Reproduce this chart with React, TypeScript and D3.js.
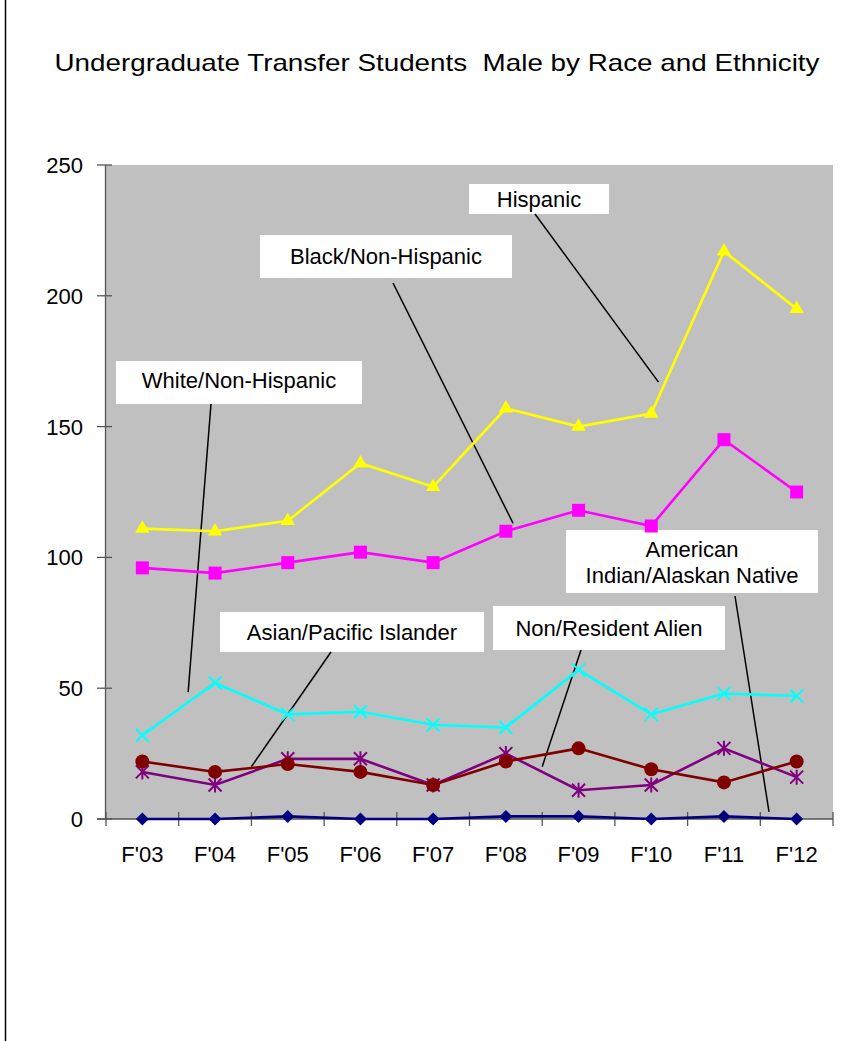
import * as d3 from 'd3';
import React from 'react';

const years = ["F'03", "F'04", "F'05", "F'06", "F'07", "F'08", "F'09", "F'10", "F'11", "F'12"];

const hispanic = [111, 110, 114, 136, 127, 157, 150, 155, 217, 195];
const black = [96, 94, 98, 102, 98, 110, 118, 112, 145, 125];
const white = [32, 52, 40, 41, 36, 35, 57, 40, 48, 47];
const asian = [22, 18, 21, 18, 13, 22, 27, 19, 14, 22];
const nonResident = [18, 13, 23, 23, 13, 25, 11, 13, 27, 16];
const amIndian = [0, 0, 1, 0, 0, 1, 1, 0, 1, 0];

const yTicks = [0, 50, 100, 150, 200, 250];

const width = 856;
const height = 1041;
const plot = { left: 106, right: 833, top: 165, bottom: 819 };

const series = [
  { name: 'Hispanic', values: hispanic, color: '#FFFF00', marker: 'triangle' },
  { name: 'Black/Non-Hispanic', values: black, color: '#FF00FF', marker: 'square' },
  { name: 'White/Non-Hispanic', values: white, color: '#00FFFF', marker: 'x' },
  { name: 'Asian/Pacific Islander', values: asian, color: '#800000', marker: 'circle' },
  { name: 'Non/Resident Alien', values: nonResident, color: '#800080', marker: 'star' },
  { name: 'American Indian/Alaskan Native', values: amIndian, color: '#000080', marker: 'diamond' },
];

// callout boxes: box in pixels, leader tip in data units (category index, value)
const callouts = [
  { lines: ['Hispanic'], box: [469, 184, 140, 30], base: [207], from: [535, 214], tip: [7.1, 167] },
  { lines: ['Black/Non-Hispanic'], box: [260, 235, 252, 43], base: [264], from: [393, 283], tip: [5.1, 113] },
  { lines: ['White/Non-Hispanic'], box: [116, 361, 246, 43], base: [388], from: [211, 404], tip: [0.63, 48.5] },
  { lines: ['Asian/Pacific Islander'], box: [220, 612, 264, 40], base: [640], from: [331, 652], tip: [1.5, 20] },
  { lines: ['Non/Resident Alien'], box: [493, 606, 232, 44], base: [636], from: [581, 650], tip: [5.5, 20] },
  { lines: ['American', 'Indian/Alaskan Native'], box: [566, 530, 252, 63], base: [557, 583], from: [735, 596], tip: [8.62, 2.7] },
];

const font = 'Arial, "Liberation Sans", Helvetica, sans-serif';

const Marker = ({ type, x, y, color }: { type: string; x: number; y: number; color: string }) => {
  const s = 6.5;
  if (type === 'triangle') {
    return <path d={d3.symbol(d3.symbolTriangle, 90)()!} transform={`translate(${x},${y})`} fill={color} />;
  }
  if (type === 'square') {
    return <rect x={x - s} y={y - s} width={2 * s} height={2 * s} fill={color} />;
  }
  if (type === 'circle') {
    return <circle cx={x} cy={y} r={7} fill={color} />;
  }
  if (type === 'diamond') {
    return <path d={`M${x},${y - s}L${x + s},${y}L${x},${y + s}L${x - s},${y}Z`} fill={color} />;
  }
  const cross = `M${x - s},${y - s}L${x + s},${y + s}M${x - s},${y + s}L${x + s},${y - s}`;
  const d = type === 'star' ? cross + `M${x},${y - s - 1}L${x},${y + s + 1}` : cross;
  return <path d={d} stroke={color} strokeWidth={2} fill="none" />;
};

export default function App() {
  const x = d3.scaleBand<string>().domain(years).range([plot.left, plot.right]).padding(0);
  const y = d3.scaleLinear().domain([0, 250]).range([plot.bottom, plot.top]);
  const xi = d3.scaleLinear().domain([-0.5, years.length - 0.5]).range([plot.left, plot.right]);
  const cx = (i: number) => (x(years[i]) ?? 0) + x.bandwidth() / 2;

  const line = d3
    .line<number>()
    .x((_, i) => cx(i))
    .y((d) => y(d));

  const bounds = years.map((yr) => x(yr) ?? 0).concat([plot.right]);

  return (
    <svg
      width={width}
      height={height}
      style={{ position: 'absolute', left: 0, top: 0, background: '#fff' }}
      fontFamily={font}
    >
      <line x1={5.5} x2={5.5} y1={0} y2={height} stroke="#000" strokeWidth={1.5} />

      <text
        x={437}
        y={71}
        fontSize={24}
        textAnchor="middle"
        textLength={765}
        lengthAdjust="spacingAndGlyphs"
        style={{ whiteSpace: 'pre' }}
      >
        {'Undergraduate Transfer Students  Male by Race and Ethnicity'}
      </text>

      <rect x={plot.left} y={plot.top} width={plot.right - plot.left} height={plot.bottom - plot.top} fill="#C0C0C0" />

      {/* y axis */}
      <line x1={plot.left - 0.5} x2={plot.left - 0.5} y1={plot.top} y2={plot.bottom} stroke="#555" strokeWidth={1.3} />
      {yTicks.map((t) => (
        <g key={t}>
          <line x1={97} x2={112} y1={y(t)} y2={y(t)} stroke="#555" strokeWidth={1.3} />
          <text x={83} y={y(t) + 8} fontSize={22} textAnchor="end">
            {t}
          </text>
        </g>
      ))}

      {/* x axis */}
      <line x1={97} x2={plot.right} y1={plot.bottom} y2={plot.bottom} stroke="#555" strokeWidth={1.3} />
      {bounds.map((b, i) => (
        <line key={i} x1={b} x2={b} y1={plot.bottom - 7} y2={plot.bottom + 7} stroke="#555" strokeWidth={1.3} />
      ))}
      {years.map((yr, i) => (
        <text key={yr} x={cx(i)} y={862} fontSize={22} textAnchor="middle">
          {yr}
        </text>
      ))}

      {/* callout boxes and leader lines */}
      {callouts.map((c, k) => (
        <g key={k}>
          <rect x={c.box[0]} y={c.box[1]} width={c.box[2]} height={c.box[3]} fill="#fff" />
          {c.lines.map((t, j) => (
            <text key={j} x={c.box[0] + c.box[2] / 2} y={c.base[j]} fontSize={22} textAnchor="middle">
              {t}
            </text>
          ))}
          <line x1={c.from[0]} y1={c.from[1]} x2={xi(c.tip[0])} y2={y(c.tip[1])} stroke="#000" strokeWidth={1.5} />
        </g>
      ))}

      {/* series */}
      {series
        .slice()
        .reverse()
        .map((s) => (
          <g key={s.name}>
            <path d={line(s.values) ?? ''} fill="none" stroke={s.color} strokeWidth={2.6} />
            {s.values.map((v, i) => (
              <Marker key={i} type={s.marker} x={cx(i)} y={y(v)} color={s.color} />
            ))}
          </g>
        ))}
    </svg>
  );
}
